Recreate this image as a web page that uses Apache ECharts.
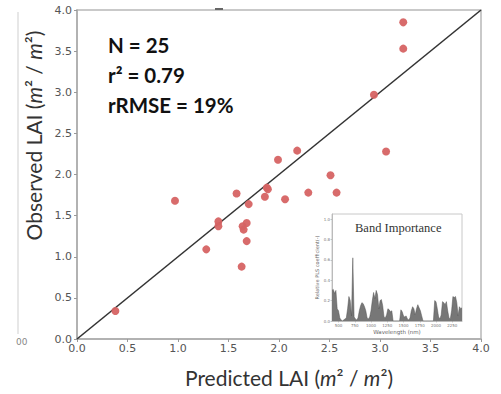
<!DOCTYPE html>
<html>
<head>
<meta charset="utf-8">
<script src="https://cdn.jsdelivr.net/npm/echarts@6/dist/echarts.min.js"></script>
<style>
html,body{margin:0;padding:0;background:#fff;}
#chart{width:501px;height:394px;}
</style>
</head>
<body>
<div id="chart"></div>
<script>
// Main scatter: predicted vs observed LAI
var predicted = [0.38,0.97,1.28,1.40,1.40,1.58,1.63,1.64,1.65,1.68,1.68,1.70,1.86,1.88,1.89,1.99,2.06,2.18,2.29,2.51,2.57,2.94,3.06,3.23,3.23];
var observed  = [0.34,1.68,1.09,1.43,1.37,1.77,0.88,1.37,1.33,1.41,1.19,1.64,1.73,1.84,1.82,2.18,1.70,2.29,1.78,1.99,1.78,2.97,2.28,3.85,3.53];
// 1:1 line end points
var oneToOne = [[0,0],[4,4]];
// Main axis ticks
var mainTicks = [0,0.5,1.0,1.5,2.0,2.5,3.0,3.5,4.0];
// Stats annotation
var statsLines = ['N = 25','r\u00b2 = 0.79','rRMSE = 19%'];

// Inset: band importance
var wavelengths = [400,420,440,460,480,500,520,540,560,580,600,620,640,660,680,700,720,740,760,780,
  800,820,840,860,880,900,920,940,960,980,1000,1020,1040,1060,1080,1100,1120,1140,1160,1180,
  1200,1220,1240,1260,1280,1300,1320,1340,1360,1380,1400,1420,1440,1460,1480,1500,1520,1540,1560,1580,
  1600,1620,1640,1660,1680,1700,1720,1740,1760,1780,1800,1820,1840,1860,1880,1900,1920,1940,1960,1980,
  2000,2020,2040,2060,2080,2100,2120,2140,2160,2180,2200,2220,2240,2260,2280,2300,2320,2340,2360,2380,2400];
var importance = [0.30,0.31,0.27,0.30,0.12,0.10,0.03,0.01,0.00,0.01,0.02,0.03,0.12,0.24,0.20,0.05,0.62,0.04,0.02,0.01,
  0.03,0.10,0.15,0.18,0.17,0.14,0.10,0.03,0.02,0.04,0.10,0.20,0.28,0.22,0.30,0.26,0.12,0.20,0.21,0.15,
  0.04,0.03,0.06,0.12,0.11,0.09,0.10,0,0,0,0,0,0,0.11,0.09,0.05,0.04,0.05,0.02,0.01,
  0.03,0.10,0.14,0.12,0.06,0.12,0.16,0.13,0.10,0.05,0,0,0,0,0,0,0,0,0,0.20,
  0.19,0.12,0.04,0.02,0.06,0.19,0.18,0.16,0.19,0.10,0.03,0.02,0.10,0.24,0.23,0.24,0.18,0.05,0.14,0.12,0.13];
var insetXTicks = [500,750,1000,1250,1500,1750,2000,2250];
var insetYTicks = [0,0.2,0.4,0.6,0.8,1.0];

var chart = echarts.init(document.getElementById('chart'), null, {renderer:'svg'});

var scatterData = predicted.map(function(p,i){return [p, observed[i]];});
var insetData = wavelengths.map(function(w,i){return [w, importance[i]];});

var tickFont = 'DejaVu Sans';
var titleRich = {
  a:{fontFamily:'Lato',fontSize:21,color:'#333'},
  i:{fontFamily:'Lato',fontSize:21,fontStyle:'italic',color:'#333'}
};

chart.setOption({
  animation:false,
  backgroundColor:'#fff',
  grid:[
    {left:77, top:10, width:404, height:329, show:true, borderColor:'#b8b8b8', borderWidth:1.5, backgroundColor:'transparent'},
    {left:332, top:214, width:130, height:107, show:true, borderColor:'#c8c8c8', borderWidth:1, backgroundColor:'#fff'}
  ],
  xAxis:[
    {gridIndex:0, type:'value', min:0, max:4, interval:0.5,
     axisLine:{show:true, lineStyle:{color:'#aaa', width:1.5}},
     axisTick:{show:true, length:3, lineStyle:{color:'#999'}},
     axisLabel:{color:'#555', fontSize:11, fontFamily:tickFont, margin:4,
       customValues:mainTicks, formatter:function(v){return v.toFixed(1);}},
     splitLine:{show:false},
     name:'{a|Predicted LAI (}{i|m}{a|\u00b2 / }{i|m}{a|\u00b2)}',
     nameLocation:'middle', nameGap:28,
     nameTextStyle:{rich:titleRich, padding:[0,0,0,20]}
    },
    {gridIndex:1, type:'value', min:400, max:2400,
     axisLine:{show:true, lineStyle:{color:'#bbb', width:1}},
     axisTick:{show:true, length:1.5, lineStyle:{color:'#999', width:0.5}, customValues:insetXTicks},
     axisLabel:{color:'#777', fontSize:4, fontFamily:tickFont, margin:2, customValues:insetXTicks,
       formatter:function(v){return String(v);}},
     splitLine:{show:false},
     name:'Wavelength (nm)', nameLocation:'middle', nameGap:8,
     nameTextStyle:{color:'#666', fontSize:5.5, fontFamily:tickFont}
    }
  ],
  yAxis:[
    {gridIndex:0, type:'value', min:0, max:4, interval:0.5,
     axisLine:{show:true, lineStyle:{color:'#aaa', width:1.5}},
     axisTick:{show:true, length:3, lineStyle:{color:'#999'}},
     axisLabel:{color:'#555', fontSize:11, fontFamily:tickFont, margin:5,
       customValues:mainTicks, formatter:function(v){return v.toFixed(1);}},
     splitLine:{show:false},
     name:'{a|Observed LAI (}{i|m}{a|\u00b2 / }{i|m}{a|\u00b2)}',
     nameLocation:'middle', nameGap:22, nameRotate:90,
     nameTextStyle:{rich:titleRich, padding:[0,0,0,78]}
    },
    {gridIndex:1, type:'value', min:0, max:1.05,
     axisLine:{show:true, lineStyle:{color:'#bbb', width:1}},
     axisTick:{show:true, length:1.5, lineStyle:{color:'#999', width:0.5}, customValues:insetYTicks},
     axisLabel:{color:'#777', fontSize:4, fontFamily:tickFont, margin:2, customValues:insetYTicks,
       formatter:function(v){return v.toFixed(1);}},
     splitLine:{show:false},
     name:'Relative PLS coefficient(-)', nameLocation:'middle', nameGap:10, nameRotate:90,
     nameTextStyle:{color:'#666', fontSize:5, fontFamily:tickFont}
    }
  ],
  series:[
    {type:'line', xAxisIndex:0, yAxisIndex:0, data:oneToOne, symbol:'none',
     lineStyle:{color:'#333', width:1.6}, silent:true, z:2},
    {type:'scatter', xAxisIndex:0, yAxisIndex:0, data:scatterData, symbolSize:8,
     itemStyle:{color:'#d66363', opacity:0.95}, z:3},
    {type:'line', xAxisIndex:1, yAxisIndex:1, data:insetData, symbol:'none',
     lineStyle:{color:'#555', width:0.5}, areaStyle:{color:'#777', opacity:1}, z:5}
  ],
  graphic:[
    {type:'text', left:108, top:30, z:10,
     style:{text:statsLines.join('\n'), fontFamily:'Lato', fontWeight:'bold', fontSize:20.5, lineHeight:30, fill:'#111'}},
    {type:'text', left:355, top:221, z:10,
     style:{text:'Band Importance', fontFamily:'Liberation Serif', fontSize:12.5, fill:'#333'}},
    {type:'line', z:1, shape:{x1:18, y1:12, x2:18, y2:334}, style:{stroke:'#cfcfcf', lineWidth:1}},
    {type:'text', left:16, top:337, z:1, style:{text:'00', fontFamily:tickFont, fontSize:9, fill:'#888'}},
    {type:'line', z:11, shape:{x1:215, y1:9, x2:223, y2:9}, style:{stroke:'#666', lineWidth:2}}
  ]
});
</script>
</body>
</html>
